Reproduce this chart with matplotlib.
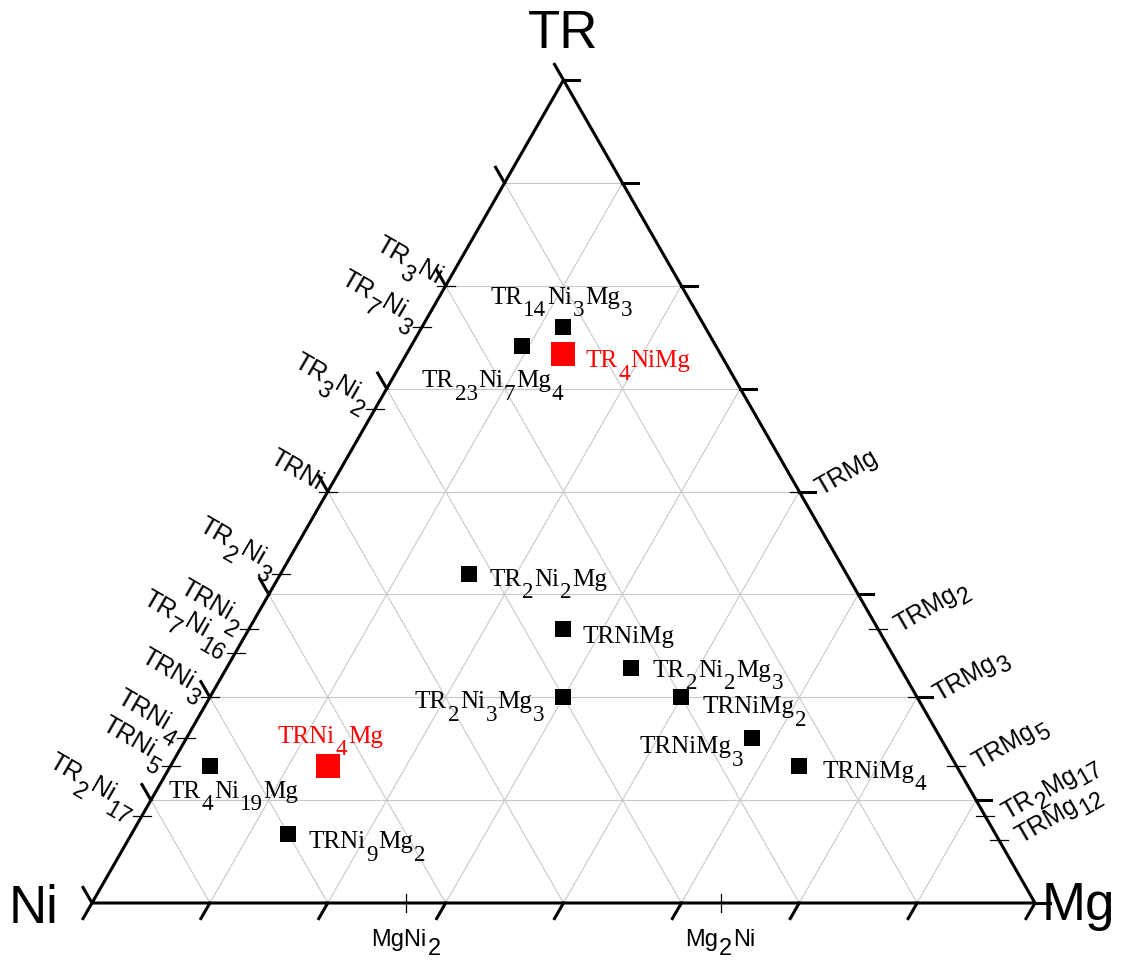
import re
import numpy as np
import matplotlib.pyplot as plt
from matplotlib import transforms
from matplotlib.font_manager import FontProperties

# ternary compounds: atoms of TR, Ni, Mg in the formula
phase_labels = ["TR14Ni3Mg3", "TR23Ni7Mg4", "TR4NiMg", "TR2Ni2Mg", "TRNiMg",
                "TR2Ni2Mg3", "TR2Ni3Mg3", "TRNiMg2", "TRNiMg3", "TRNiMg4",
                "TR4Ni19Mg", "TRNi4Mg", "TRNi9Mg2"]
phase_tr = [14, 23, 4, 2, 1, 2, 2, 1, 1, 1, 4, 1, 1]
phase_ni = [3, 7, 1, 2, 1, 2, 3, 1, 1, 1, 19, 4, 9]
phase_mg = [3, 4, 1, 1, 1, 3, 3, 2, 3, 4, 1, 1, 2]
phase_new = [False, False, True, False, False, False, False,
             False, False, False, False, True, False]

# binary compounds on the TR-Ni side (TR, Ni atoms)
trni_labels = ["TR3Ni", "TR7Ni3", "TR3Ni2", "TRNi", "TR2Ni3", "TRNi2",
               "TR7Ni16", "TRNi3", "TRNi4", "TRNi5", "TR2Ni17"]
trni_tr = [3, 7, 3, 1, 2, 1, 7, 1, 1, 1, 2]
trni_ni = [1, 3, 2, 1, 3, 2, 16, 3, 4, 5, 17]

# binary compounds on the TR-Mg side (TR, Mg atoms)
trmg_labels = ["TRMg", "TRMg2", "TRMg3", "TRMg5", "TR2Mg17", "TRMg12"]
trmg_tr = [1, 1, 1, 1, 2, 1]
trmg_mg = [1, 2, 3, 5, 17, 12]

# binary compounds on the Ni-Mg side (Mg, Ni atoms)
mgni_labels = ["MgNi2", "Mg2Ni"]
mgni_mg = [1, 2]
mgni_ni = [2, 1]

H = np.sqrt(3) / 2


def to_xy(tr, ni, mg):
    tr, ni, mg = np.asarray(tr, float), np.asarray(ni, float), np.asarray(mg, float)
    tot = tr + ni + mg
    tr, mg = tr / tot, mg / tot
    return mg + tr / 2, tr * H


fig = plt.figure(figsize=(11.36, 9.63), dpi=100)
ax = fig.add_axes([0, 0, 1, 1])
ax.axis('off')
# triangle: Ni at (92, 903) px, Mg at (1035, 903) px, TR at (563, 80) px
sx = 1 / 943
sy = H / 823
ax.set_xlim(-92 * sx, (1136 - 92) * sx)
ax.set_ylim(-(963 - 903) * sy, 903 * sy)
renderer = fig.canvas.get_renderer()


def px(dx, dy):
    return dx * sx, dy * sy


def formula(x, y, name, family, size, rot=0, ha='left', dx=0, dy=0,
            color='black', sub_scale=0.92, sub_drop=0.5):
    """Write a chemical formula with subscripted counts, starting at data point
    (x, y) shifted by (dx, dy) pixels, along a baseline rotated by rot degrees."""
    pieces = [(m.group(), m.group().isdigit()) for m in re.finditer(r'\d+|\D+', name)]
    fp_main = FontProperties(family=family, size=size)
    fp_sub = FontProperties(family=family, size=size * sub_scale)
    widths = []
    for s, sub in pieces:
        w, _, _ = renderer.get_text_width_height_descent(s, fp_sub if sub else fp_main, ismath=False)
        widths.append(w + 0.04 * size)
    total = sum(widths)
    pos = {'left': 0, 'center': -total / 2, 'right': -total}[ha]
    c, s_ = np.cos(np.radians(rot)), np.sin(np.radians(rot))
    drop = sub_drop * size * fig.dpi / 72
    for (s, sub), w in zip(pieces, widths):
        v = -drop if sub else 0
        ox = dx + pos * c - v * s_
        oy = dy + pos * s_ + v * c
        tr = transforms.offset_copy(ax.transData, fig=fig, x=ox, y=oy, units='dots')
        ax.text(x, y, s, transform=tr, rotation=rot, rotation_mode='anchor',
                ha='left', va='baseline', fontproperties=fp_sub if sub else fp_main,
                color=color, zorder=6)
        pos += w


# grid
f = np.arange(1, 8) / 8
for v in f:
    for a, b in [(to_xy(v, 1 - v, 0), to_xy(v, 0, 1 - v)),
                 (to_xy(0, 1 - v, v), to_xy(1 - v, 0, v)),
                 (to_xy(0, v, 1 - v), to_xy(1 - v, v, 0))]:
        ax.plot([a[0], b[0]], [a[1], b[1]], color='#c8c8c8', lw=0.8, zorder=1)

# frame
vx, vy = to_xy([0, 0, 1, 0], [1, 0, 0, 1], [0, 1, 0, 0])
ax.plot(vx, vy, color='black', lw=2.2, zorder=3, solid_capstyle='butt')

# major ticks every 1/8
tl = 18
for v in np.arange(0, 9) / 8:
    x, y = to_xy(0, 1 - v, v)
    ddx, ddy = px(-0.5 * tl, -0.866 * tl)
    ax.plot([x, x + ddx], [y, y + ddy], color='black', lw=2.2, zorder=3)
    x, y = to_xy(v, 1 - v, 0)
    ddx, ddy = px(-0.5 * tl, 0.866 * tl)
    ax.plot([x, x + ddx], [y, y + ddy], color='black', lw=2.2, zorder=3)
    x, y = to_xy(v, 0, 1 - v)
    ddx, ddy = px(tl * 0.85, 0)
    ax.plot([x, x + ddx], [y, y + ddy], color='black', lw=2.2, zorder=3)

mt = 9
sans = 'Liberation Sans'

# TR-Ni side
for lab, a, b in zip(trni_labels, trni_tr, trni_ni):
    x, y = to_xy(a, b, 0)
    hx, _ = px(mt, 0)
    ax.plot([x - hx, x + hx], [y, y], color='black', lw=0.9, zorder=3)
    formula(x, y, lab, sans, 18, rot=-30, ha='right', dx=-9, dy=1)

# TR-Mg side
for lab, a, b in zip(trmg_labels, trmg_tr, trmg_mg):
    x, y = to_xy(a, 0, b)
    hx, _ = px(mt, 0)
    ax.plot([x - hx, x + hx], [y, y], color='black', lw=0.9, zorder=3)
    formula(x, y, lab, sans, 18, rot=30, ha='left', dx=22, dy=-4, sub_drop=0.3)

# Ni-Mg side
for lab, a, b in zip(mgni_labels, mgni_mg, mgni_ni):
    x, y = to_xy(0, b, a)
    _, hy = px(0, mt)
    ax.plot([x, x], [y - hy, y + hy], color='black', lw=0.9, zorder=3)
    formula(x, y, lab, sans, 17, ha='center', dy=-43, sub_scale=1.0, sub_drop=0.4)

# corner labels
big = dict(family=sans, fontsize=38)
x, y = to_xy(1, 0, 0)
ax.text(x, y, "TR", transform=transforms.offset_copy(ax.transData, fig=fig, x=0, y=46, units='dots'),
        ha='center', va='center', **big)
x, y = to_xy(0, 1, 0)
ax.text(x, y, "Ni", transform=transforms.offset_copy(ax.transData, fig=fig, x=-34, y=-6, units='dots'),
        ha='right', va='center', **big)
x, y = to_xy(0, 0, 1)
ax.text(x, y, "Mg", transform=transforms.offset_copy(ax.transData, fig=fig, x=7, y=-3, units='dots'),
        ha='left', va='center', **big)

# compounds
cx, cy = to_xy(phase_tr, phase_ni, phase_mg)
new = np.array(phase_new)
ax.scatter(cx[~new], cy[~new], marker='s', s=125, color='black', zorder=5, linewidths=0)
ax.scatter(cx[new], cy[new], marker='s', s=300, color='red', zorder=5, linewidths=0)

label_pos = [((-2, 23), 'center'), ((-29, -41), 'center'), ((22, -13), 'left'),
             ((20, -12), 'left'), ((19, -14), 'left'), ((22, -9), 'left'),
             ((-18, -11), 'right'), ((21, -16), 'left'), ((-8, -15), 'right'),
             ((23, -12), 'left'), ((-41, -32), 'left'), ((-50, 23), 'left'),
             ((20, -14), 'left')]
for lab, x, y, is_new, (off, ha) in zip(phase_labels, cx, cy, phase_new, label_pos):
    formula(x, y, lab, 'Liberation Serif', 18, ha=ha, dx=off[0], dy=off[1],
            color='red' if is_new else 'black')

fig.savefig('out.png', dpi=100)
